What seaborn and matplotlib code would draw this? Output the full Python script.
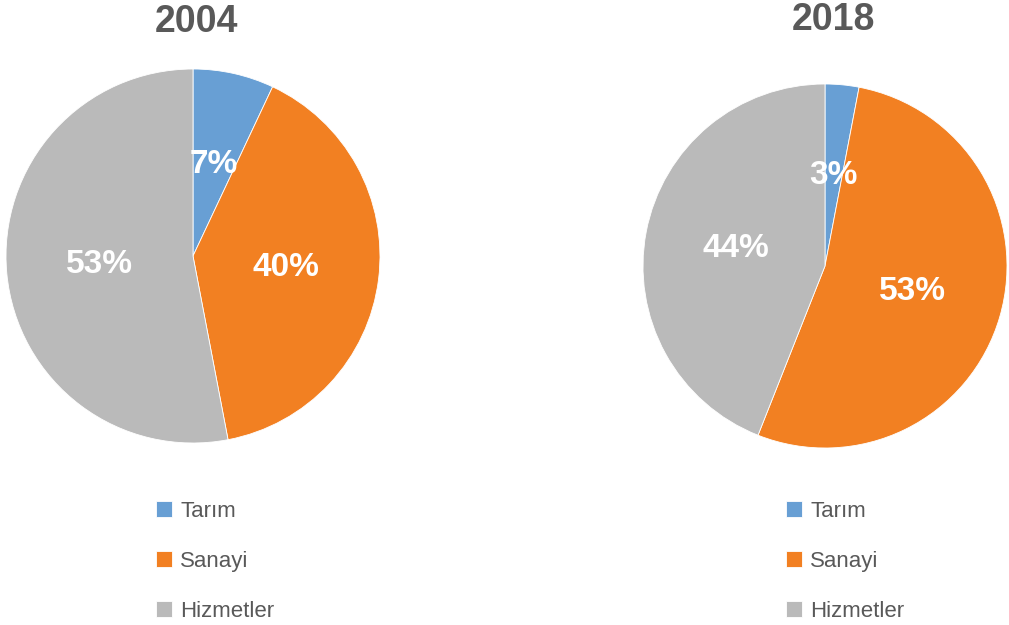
import matplotlib
matplotlib.use("Agg")
import matplotlib.pyplot as plt
import seaborn as sns

# Sector shares (%)
sectors = ["Tarım", "Sanayi", "Hizmetler"]
years = ["2004", "2018"]
shares_2004 = [7, 40, 53]
shares_2018 = [3, 53, 44]
colors = ["#689fd4", "#f28022", "#bababa"]

sns.set_theme(style="white")
plt.rcParams['font.family'] = ['Liberation Sans', 'DejaVu Sans']

fig = plt.figure(figsize=(10.09, 6.25), dpi=100)
W, H = 1009, 625

# pie axes boxes in pixels: left, bottom, size
boxes = [(6, 182, 374), (643, 177, 364)]
title_y = [22, 20]
title_x = [197, 833]
legend_x = [156, 786]

for i, shares in enumerate([shares_2004, shares_2018]):
    left, bottom, size = boxes[i]
    ax = fig.add_axes([left / W, bottom / H, size / W, size / H])
    wedges, texts, autotexts = ax.pie(
        shares, colors=colors, startangle=90, counterclock=False,
        autopct='%.0f%%', pctdistance=0.5,
        wedgeprops=dict(linewidth=0.6, edgecolor='white'),
        textprops=dict(color='white', fontsize=24, fontweight='bold'))
    ax.set_xlim(-1, 1)
    ax.set_ylim(-1, 1)
    ax.set_aspect('equal')
    fig.text(title_x[i] / W, 1 - title_y[i] / H, years[i], ha='center', va='center',
             fontsize=27, fontweight='bold', color='#595959')
    fig.legend(wedges, sectors, loc='upper left',
               bbox_to_anchor=(legend_x[i] / W, 1 - 501 / H),
               frameon=False, fontsize=16, labelcolor='#595959',
               handlelength=0.7, handleheight=0.7, handletextpad=0.4,
               labelspacing=1.3, borderpad=0, borderaxespad=0)

fig.savefig("out.png", dpi=100)
